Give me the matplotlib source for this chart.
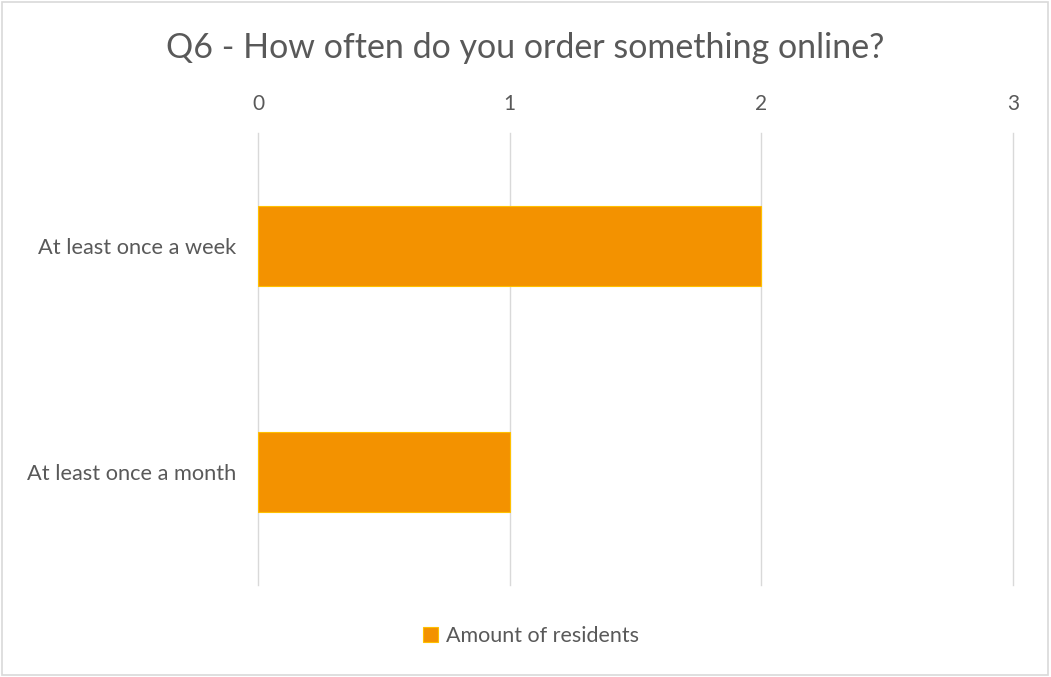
import matplotlib
matplotlib.use("Agg")
import matplotlib.pyplot as plt
from matplotlib.patches import Rectangle

categories = ["At least once a month", "At least once a week"]
residents = [1, 2]
ticks = [0, 1, 2, 3]
title = "Q6 - How often do you order something online?"
series_name = "Amount of residents"

plt.rcParams["font.family"] = ["Lato", "DejaVu Sans"]
text_color = "#595959"
bar_color = "#F39200"
grid_color = "#D9D9D9"

fig = plt.figure(figsize=(10.51, 6.77), dpi=100)
ax = fig.add_axes([0.2455, 0.1359, 0.7183, 0.6676])

ax.barh(range(len(categories)), residents, height=0.358, color=bar_color,
        edgecolor="#FFC000", linewidth=0.8, label=series_name, zorder=3)

ax.set_xlim(0, 3)
ax.set_ylim(-0.5, len(categories) - 0.5)
ax.set_xticks(ticks)
ax.set_yticks(range(len(categories)))
ax.set_yticklabels(categories)
ax.xaxis.tick_top()
ax.tick_params(axis="x", length=0, pad=14, labelsize=15, labelcolor=text_color)
ax.tick_params(axis="y", length=0, pad=16, labelsize=15.7, labelcolor=text_color)
ax.grid(axis="x", color=grid_color, linewidth=1, zorder=0)
for gl in ax.get_xgridlines():
    gl.set_clip_on(False)
for s in ax.spines.values():
    s.set_visible(False)

fig.text(0.5, 0.929, title, ha="center", va="center", fontsize=24.5, color=text_color)

leg = fig.legend(loc="center", bbox_to_anchor=(0.505, 0.061), frameon=False,
                 fontsize=15.5, handlelength=0.7, handleheight=0.7,
                 handletextpad=0.35, labelcolor=text_color)

fig.patches.append(Rectangle((0.002, 0.003), 0.995, 0.994, transform=fig.transFigure,
                             fill=False, edgecolor="#D9D9D9", linewidth=1.2))

fig.savefig("out.png", dpi=100, facecolor="white")
